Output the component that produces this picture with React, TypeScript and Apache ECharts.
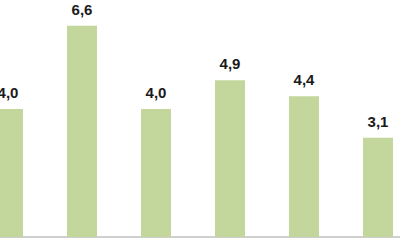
import React, { useEffect, useRef } from "react";
import * as echarts from "echarts";

const categories = ["1", "2", "3", "4", "5", "6"];
const values = [4.0, 6.6, 4.0, 4.9, 4.4, 3.1];
const valueLabels = ["4,0", "6,6", "4,0", "4,9", "4,4", "3,1"];

export default function App() {
  const ref = useRef<HTMLDivElement>(null);
  useEffect(() => {
    if (!ref.current) return;
    const chart = echarts.init(ref.current, null, { renderer: "svg" });
    chart.setOption({
      animation: false,
      backgroundColor: "#ffffff",
      grid: { left: 0, right: 0, top: 13, bottom: 13, containLabel: false },
      xAxis: {
        type: "category",
        data: categories,
        axisLine: { show: true, lineStyle: { color: "#BFBFBF", width: 1.5 } },
        axisTick: { show: false },
        axisLabel: { show: false },
      },
      yAxis: {
        type: "value",
        min: 0,
        max: 7,
        show: false,
        splitLine: { show: false },
      },
      series: [
        {
          type: "bar",
          data: values,
          barWidth: 30,
          itemStyle: { color: "#C3D79C" },
          label: {
            show: true,
            position: "top",
            distance: 9,
            formatter: (p: any) => valueLabels[p.dataIndex],
            fontFamily: "Liberation Sans, Arial, sans-serif",
            fontWeight: "bold",
            fontSize: 15,
            color: "#1a1a1a",
          },
        },
      ],
    });
    return () => chart.dispose();
  }, []);
  return (
    <div style={{ position: "fixed", left: 0, top: 0, width: 400, height: 250, overflow: "hidden", background: "#fff" }}>
      <div
        ref={ref}
        style={{ position: "absolute", left: -29, top: 0, width: 444, height: 250 }}
      />
    </div>
  );
}
